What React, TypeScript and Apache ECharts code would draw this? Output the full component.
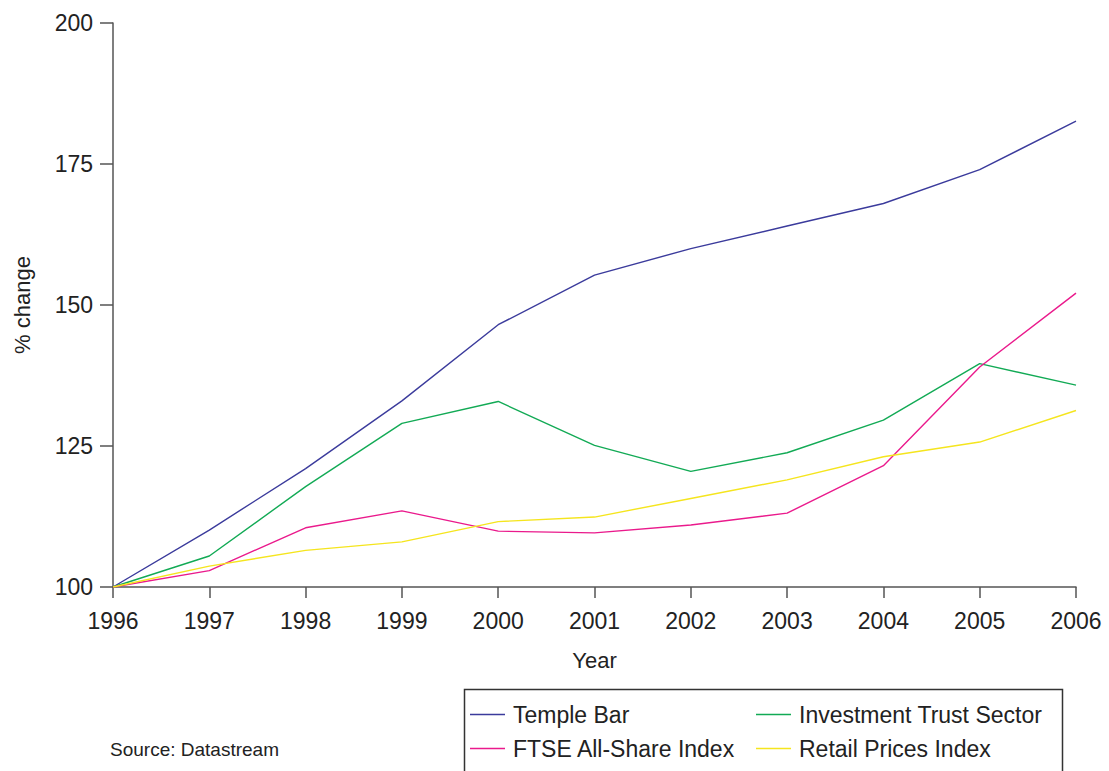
import React, { useEffect, useRef } from "react";
import * as echarts from "echarts";

const years = ["1996", "1997", "1998", "1999", "2000", "2001", "2002", "2003", "2004", "2005", "2006"];
const templeBar = [100, 110.1, 121, 133, 146.5, 155.3, 160, 164, 168, 174, 182.6];
const investmentTrust = [100, 105.5, 117.8, 129, 132.9, 125.1, 120.5, 123.8, 129.6, 139.6, 135.8];
const ftseAllShare = [100, 102.9, 110.5, 113.5, 109.9, 109.6, 111, 113.1, 121.5, 139, 152.1];
const retailPrices = [100, 103.7, 106.5, 108, 111.6, 112.4, 115.7, 119, 123.1, 125.7, 131.3];
const yTicks = { min: 100, max: 200, interval: 25 };

const FONT = "'Liberation Sans', Arial, Helvetica, sans-serif";
const TEXT = "#222222";
const AXIS = "#555555";

export default function App() {
  const ref = useRef<HTMLDivElement>(null);
  useEffect(() => {
    if (!ref.current) return;
    const chart = echarts.init(ref.current, null, { renderer: "svg" });
    const mk = (name: string, data: number[], color: string) => ({
      name,
      type: "line",
      data,
      symbol: "none",
      lineStyle: { color, width: 1.4 },
      itemStyle: { color },
    });
    const legendCommon = {
      orient: "vertical",
      top: 703,
      icon: "rect",
      itemWidth: 35,
      itemHeight: 1.6,
      itemGap: 11,
      selectedMode: false,
      textStyle: { fontFamily: FONT, fontSize: 23, color: TEXT, padding: [0, 0, 0, 3] },
      padding: 0,
    };
    chart.setOption({
      animation: false,
      backgroundColor: "#ffffff",
      grid: { left: 113, right: 33, top: 23, bottom: 184, containLabel: false, outerBoundsMode: "none" },
      xAxis: {
        type: "category",
        data: years,
        boundaryGap: false,
        name: "Year",
        nameLocation: "middle",
        nameGap: 62,
        nameTextStyle: { fontFamily: FONT, fontSize: 22, color: TEXT },
        axisLine: { lineStyle: { color: AXIS, width: 1.5 } },
        axisTick: { length: 11, lineStyle: { color: AXIS, width: 1.5 }, alignWithLabel: true },
        axisLabel: { fontFamily: FONT, fontSize: 23, color: TEXT, margin: 22 },
        splitLine: { show: false },
      },
      yAxis: {
        type: "value",
        min: yTicks.min,
        max: yTicks.max,
        interval: yTicks.interval,
        name: "% change",
        nameLocation: "middle",
        nameGap: 80,
        nameRotate: 90,
        nameTextStyle: { fontFamily: FONT, fontSize: 22, color: TEXT },
        axisLine: { show: true, lineStyle: { color: AXIS, width: 1.5 } },
        axisTick: { show: true, length: 13, lineStyle: { color: AXIS, width: 1.5 } },
        axisLabel: { fontFamily: FONT, fontSize: 23, color: TEXT, margin: 20 },
        splitLine: { show: false },
      },
      legend: [
        { ...legendCommon, left: 470, data: ["Temple Bar", "FTSE All-Share Index"] },
        { ...legendCommon, left: 756, data: ["Investment Trust Sector", "Retail Prices Index"] },
      ],
      graphic: [
        {
          type: "rect",
          left: 462,
          top: 687,
          shape: { width: 598, height: 110 },
          style: { fill: "none", stroke: "#333333", lineWidth: 1.5 },
          silent: true,
        },
        {
          type: "text",
          left: 110,
          top: 740,
          style: { text: "Source: Datastream", font: `19px ${FONT}`, fill: TEXT },
          silent: true,
        },
      ],
      series: [
        mk("Temple Bar", templeBar, "#3b3b9c"),
        mk("Investment Trust Sector", investmentTrust, "#12aa55"),
        mk("FTSE All-Share Index", ftseAllShare, "#ea1a8c"),
        mk("Retail Prices Index", retailPrices, "#f5e51e"),
      ],
    });
    return () => chart.dispose();
  }, []);
  return (
    <div
      ref={ref}
      style={{ position: "fixed", left: 0, top: 0, width: 1109, height: 771, background: "#fff" }}
    />
  );
}
